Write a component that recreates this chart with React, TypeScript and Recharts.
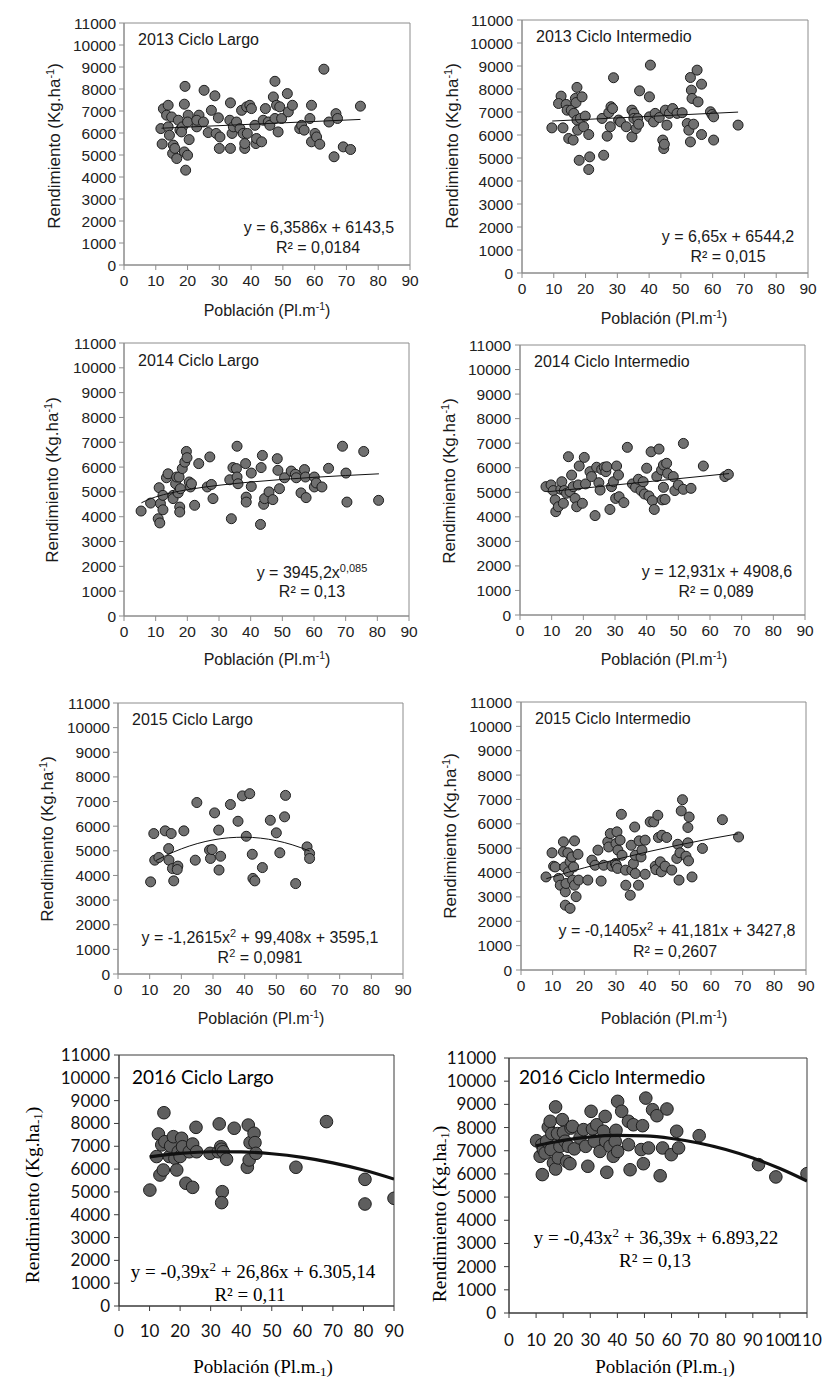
import React from 'react';
import { ScatterChart, Scatter, XAxis, YAxis, ReferenceArea } from 'recharts';

type Pt = { x: number; y: number };
const toPts = (a: number[][]): Pt[] => a.map(([x, y]) => ({ x, y }));

// ---- tick values ----
const yTicks = [0, 1000, 2000, 3000, 4000, 5000, 6000, 7000, 8000, 9000, 10000, 11000];
const xTicks90 = [0, 10, 20, 30, 40, 50, 60, 70, 80, 90];
const xTicks110 = [0, 10, 20, 30, 40, 50, 60, 70, 80, 90, 100, 110];

// ---- observed points (Población, Rendimiento) ----
const p2013Largo = toPts([[11.6,6200],[12.4,7100],[12,5500],[13.9,7260],[13.4,6810],[13.9,6280],[14.3,5900],[15,6730],[15.5,5450],[15.3,5070],[16,5300],[16.6,4840],[17.1,6580],[17.6,6130],[18.4,6280],[19.2,8120],[19,7310],[19,5140],[19.4,4310],[20,4990],[20.2,6810],[20,6500],[20.5,5700],[18.1,6050],[22.9,6280],[23.6,6810],[22.9,6580],[25,6500],[25.2,7940],[26.5,6020],[27.5,7030],[28.6,7690],[29,5980],[29.7,6690],[30,5300],[30.2,5820],[33.5,7370],[33.5,5300],[33.3,6580],[34,5980],[34.4,6280],[35.4,6500],[36.5,6200],[37,7030],[37.5,5980],[38,5300],[38,5520],[38.6,7190],[38.8,5980],[39.6,7260],[40.1,7110],[41.2,6350],[41.5,5520],[41.7,5750],[43.3,5600],[43.8,6580],[44.5,7110],[45.4,6500],[45.9,6350],[47,7640],[47.5,8350],[47.5,6660],[48,7260],[48.5,6050],[49,7190],[49.6,6660],[51.4,7790],[51.7,6960],[53,7260],[55.3,6200],[55.9,6350],[56.7,6130],[58.5,6660],[59,7260],[59,5600],[60.1,5980],[60.6,5820],[61.6,5490],[62.9,8900],[64.5,6500],[66.1,4920],[66.7,6880],[67.2,6660],[69,5370],[71.3,5250],[74.4,7220]]);

const p2013Inter = toPts([[9.4,6310],[12.3,7690],[11.5,7370],[12.9,6310],[13.9,7330],[14.2,7080],[14.7,5850],[15.5,7080],[16.1,5780],[16.3,6940],[16.8,7590],[17,7410],[17.3,8070],[17.3,6650],[17.5,6210],[18,4900],[18.4,6720],[18.9,7660],[19.4,6360],[19.9,6820],[21,6020],[21.3,5050],[21,4500],[25.2,6720],[25.7,5120],[26.8,5950],[27.3,6970],[27.8,6360],[28,7230],[28.5,7150],[28.8,8490],[30.4,6650],[31,6570],[32.8,6360],[34.6,7080],[34.6,5920],[35.2,6940],[35.2,6720],[35.9,6280],[36.4,6720],[36.7,6470],[37,7920],[40.1,7660],[40.4,9040],[40.1,6790],[41.4,6570],[41.9,6940],[43.2,6760],[44.3,5780],[44.6,5410],[44.8,5600],[45.1,7080],[45.6,6430],[46.4,6940],[47.4,7150],[48.8,6940],[50.4,6970],[52,6500],[52.5,6210],[53,5700],[53,8500],[53.3,7950],[53.5,7590],[54,6470],[55.1,8820],[55.4,7440],[56.5,8210],[56.5,6020],[59.3,7010],[59.8,6890],[60.3,6790],[60.3,5780],[68,6430]]);

const p2014Largo = toPts([[5.4,4230],[8.4,4550],[10.8,3920],[11.3,3750],[11.1,5170],[11.5,4530],[12.3,4860],[12.3,4280],[13.4,5570],[13.9,5730],[15.5,4860],[15.5,4730],[16.3,5330],[16.6,5600],[17.1,4960],[17.4,5600],[17.6,4390],[17.6,4190],[17.8,5130],[18.4,5940],[19.2,6200],[19.7,6630],[19.9,6380],[20.6,5400],[21,5200],[21.3,5330],[22.3,4460],[23.6,6140],[26.3,5200],[27.1,6410],[27.6,5300],[28.1,4730],[33.4,5490],[33.9,3920],[34.4,5980],[35.5,5940],[35.7,6840],[35.7,5600],[36,5330],[38.4,6140],[38.6,4790],[38.6,4590],[40.2,5760],[40.2,5220],[43.1,3690],[43.3,5980],[43.7,6470],[44.1,4500],[44.4,4730],[45.8,5000],[47,4690],[48.4,6340],[48.6,5870],[49.1,5130],[50.7,5570],[52.8,5840],[54.1,5710],[54.4,5570],[55.9,4960],[57,5900],[57.3,5600],[57.5,4770],[60.1,5600],[60.1,5200],[60.7,5360],[62.5,5200],[64.6,5950],[69,6840],[70.1,5760],[70.4,4590],[75.7,6630],[80.4,4660]]);

const p2014Inter = toPts([[8.2,5230],[9.8,5300],[10.5,5070],[11.1,4690],[11.3,4210],[12.1,4410],[12.9,5120],[13.2,5430],[13.7,4550],[14,5070],[14.7,4960],[15.3,6450],[15.8,5020],[16.3,5700],[16.8,5230],[17.4,4750],[17.9,4410],[18.4,5300],[18.7,6070],[19.7,4550],[20.3,6420],[20.7,5340],[22.1,5840],[22.6,5640],[23.7,4050],[24.2,6020],[24.9,5390],[25.3,5090],[25.8,5930],[26.6,6020],[27.1,5840],[27.4,6040],[28.4,4300],[28.9,5230],[29.5,5430],[30.2,4750],[30.5,6070],[31.1,5700],[31.3,4820],[32.8,4580],[33.9,6830],[35.5,5340],[36.5,5200],[37.4,5530],[38.2,5070],[38.9,5430],[39.3,4930],[40,5980],[40.7,4850],[41.4,6650],[41.8,4660],[42.4,4300],[43.2,5640],[43.9,6760],[44.7,5910],[44.9,4690],[45.3,6110],[45.3,5200],[45.8,4710],[46.3,6180],[46.6,5770],[48.4,5640],[48.9,5070],[50,5300],[51.6,5120],[51.6,6990],[54,5160],[57.9,6070],[64.7,5640],[65.8,5730]]);

const p2015Largo = toPts([[10.3,3740],[11.3,5700],[11.6,4620],[12.9,4730],[14.9,5810],[16,5090],[16.1,4620],[16.8,5700],[17.2,4280],[17.6,3780],[18.9,4380],[18.7,4240],[20.8,5810],[24.4,4620],[24.9,6960],[28.9,5030],[29.2,4690],[29.7,5050],[30.5,6540],[31.8,5840],[31.9,4220],[32.4,4780],[35.5,6880],[37.9,6200],[39.3,7230],[40.5,5590],[41.6,7320],[42.4,4860],[42.6,3880],[43.2,3780],[45.6,4320],[48.1,6240],[50,5730],[51.1,4920],[52.6,6380],[52.9,7250],[56.1,3670],[59.7,5160],[60.5,4890],[60.5,4690]]);

const p2015Inter = toPts([[7.9,3820],[9.8,4810],[10.3,4260],[10.8,4230],[11.9,3760],[12.4,3480],[13.4,5260],[13.4,4850],[13.8,4230],[14,3210],[14,2660],[14.2,3550],[14.8,4810],[15,4030],[15.5,2530],[15.5,4440],[16.1,4640],[16.3,3690],[16.6,4230],[16.9,5300],[16.9,3480],[17.4,3010],[18,4750],[18.2,3690],[21.1,3690],[22.4,4510],[23.4,4300],[24.3,4920],[25.3,3650],[26.1,4300],[27.4,5260],[27.7,5050],[28.2,5600],[28.7,4260],[29.8,4370],[30,5190],[30.1,4300],[30.3,5670],[30.5,4170],[30.6,4920],[31.3,5330],[31.7,6390],[31.9,4710],[33,4100],[33.1,3480],[34.5,3070],[34.8,5120],[35,4100],[35.5,4370],[35.9,5870],[36.1,4710],[36.1,3960],[37.1,3480],[37.3,5300],[37.9,4640],[38.2,4920],[39.2,5330],[39.2,3930],[40.8,6080],[41.9,6080],[42.4,4260],[42.6,4120],[43.2,6350],[43.4,5440],[44,4440],[44.3,4030],[44.5,5530],[45.5,4260],[46,5440],[47.6,4100],[49.2,4580],[49.5,5160],[49.9,3690],[50.2,4810],[50.6,6530],[51,6990],[52.1,4670],[52.7,5220],[52.7,5850],[52.9,4480],[53.1,6280],[54,3820],[57.3,4990],[63.6,6170],[68.7,5460]]);

const p2016Largo = toPts([[10.1,5080],[12.3,6550],[12.9,7540],[13.4,5740],[14,7060],[14.5,5960],[14.7,8470],[15,7200],[16.5,6550],[16.9,7010],[17.8,7420],[18.3,6470],[18.9,5960],[19.4,6760],[20,6550],[20.5,7350],[20.8,6980],[21.9,5380],[23,6760],[24.1,5200],[24.1,7100],[25.2,7830],[25.4,6760],[29.8,6690],[32.5,6760],[32.8,7980],[33.3,6980],[33.6,6870],[33.8,5010],[33.6,4530],[34.1,6760],[35.2,6430],[37.7,7790],[42,6080],[42.3,7930],[42.6,6400],[42.9,7160],[44.2,7570],[44.5,7160],[44.8,6690],[57.9,6080],[67.9,8080],[80.5,5550],[80.5,4470],[90,4720]]);

const p2016Inter = toPts([[10.2,7430],[11.5,6760],[12.3,5970],[12.1,7260],[12.7,7050],[13.3,6900],[13.9,7410],[14.5,8020],[15.2,8270],[15.5,7050],[15.8,7740],[16.4,6470],[17.2,8890],[17.2,6210],[17.9,7740],[18.2,6690],[18.8,7190],[19.7,8340],[20.1,7790],[20.7,7410],[21.3,6540],[21.9,7190],[22.5,6440],[22.9,7980],[23.4,8050],[24.1,7080],[26.2,7550],[27.5,7910],[28.3,7190],[29.1,6330],[30.3,8700],[30.8,7940],[31.5,7410],[32.4,8120],[33.6,6970],[34.9,7840],[35.5,8480],[35.7,7410],[36.1,6070],[37.3,7190],[38.5,6760],[39.2,7410],[39.5,7880],[40.1,9130],[40.1,6970],[41.6,8700],[44.1,7260],[44.1,8270],[44.7,6180],[45.9,8120],[48.8,7050],[49.3,8080],[49.6,6440],[50.5,9270],[51.5,7120],[53,8770],[54.6,8510],[55.8,5920],[56.7,7120],[58.3,8800],[59.9,6830],[61.9,7840],[62.6,7120],[70.2,7650],[92.1,6400],[98.5,5870],[110,6010]]);

// ---- trendline points ----
const t2013Largo = toPts([[11.8,6218],[74.4,6617]]);
const t2013Inter = toPts([[9.5,6607],[68,6996]]);
const t2014Largo = toPts([[5.5,4560],[8,4708],[10,4798],[15,4966],[20,5089],[30,5268],[40,5398],[50,5502],[60,5588],[70,5661],[80.5,5729]]);
const t2014Inter = toPts([[8.5,5018],[66,5762]]);
const t2015Largo = toPts([[12,4606],[15,4802],[20,5079],[25,5292],[30,5442],[35,5529],[40,5553],[45,5514],[50,5412],[55,5246],[60.5,4992]]);
const t2015Inter = toPts([[8,3748],[15,4014],[20,4195],[30,4537],[40,4850],[50,5136],[60,5393],[68.5,5589]]);
const t2016Largo = toPts([[10,6535],[20,6686],[30,6760],[40,6755],[50,6673],[60,6513],[70,6274],[80,5958],[90,5563]]);
const t2016Inter = toPts([[10,7214],[20,7449],[30,7598],[40,7661],[50,7638],[60,7529],[70,7334],[80,7052],[90,6685],[100,6232],[110,5693]]);

// ---- layout / style ----
type Panel = {
  data: Pt[]; trend: Pt[]; col: number; L: number; R: number; T: number; B: number;
  xMax: number; xTicks: number[]; kind: 'a' | 'b'; xTickMargin: number; yTickMargin: number;
};

const panels: Panel[] = [
  { data: p2013Largo, trend: t2013Largo, col: 0, L: 124, R: 410, T: 23, B: 265, xMax: 90, xTicks: xTicks90, kind: 'a', xTickMargin: 5, yTickMargin: 3 },
  { data: p2013Inter, trend: t2013Inter, col: 412, L: 522, R: 808, T: 20, B: 273, xMax: 90, xTicks: xTicks90, kind: 'a', xTickMargin: 5, yTickMargin: 4 },
  { data: p2014Largo, trend: t2014Largo, col: 0, L: 124, R: 409, T: 343, B: 616, xMax: 90, xTicks: xTicks90, kind: 'a', xTickMargin: 5, yTickMargin: 3 },
  { data: p2014Inter, trend: t2014Inter, col: 412, L: 520, R: 805, T: 345, B: 615, xMax: 90, xTicks: xTicks90, kind: 'a', xTickMargin: 5, yTickMargin: 4 },
  { data: p2015Largo, trend: t2015Largo, col: 0, L: 118, R: 403, T: 703, B: 974, xMax: 90, xTicks: xTicks90, kind: 'a', xTickMargin: 5, yTickMargin: 3 },
  { data: p2015Inter, trend: t2015Inter, col: 412, L: 521, R: 806, T: 702, B: 970, xMax: 90, xTicks: xTicks90, kind: 'a', xTickMargin: 5, yTickMargin: 4 },
  { data: p2016Largo, trend: t2016Largo, col: 0, L: 119, R: 394, T: 1055, B: 1306, xMax: 90, xTicks: xTicks90, kind: 'b', xTickMargin: 14, yTickMargin: 4 },
  { data: p2016Inter, trend: t2016Inter, col: 412, L: 509, R: 807, T: 1058, B: 1313, xMax: 110, xTicks: xTicks110, kind: 'b', xTickMargin: 16, yTickMargin: 8 },
];

const SANS = '"Liberation Sans", Arial, sans-serif';
const SERIF = '"Liberation Serif", "Times New Roman", serif';
const CAL = 'Lato, "Open Sans", sans-serif';

function ChartPanel({ p }: { p: Panel }) {
  const isB = p.kind === 'b';
  const top = p.T - 10;
  const rightPad = 16;
  const width = p.R - p.col + rightPad;
  const xAxisH = 44;
  const height = p.B - top + xAxisH;
  const axisColor = isB ? '#3a3a3a' : '#8c8c8c';
  const tickFont = isB ? { fill: '#111', fontSize: 17, fontFamily: CAL } : { fill: '#222', fontSize: 15.5, fontFamily: SANS };
  const r = isB ? 6.3 : 5;
  const fill = isB ? '#5e5e5e' : '#707070';
  const dot = (props: any) => (
    <circle cx={props.cx} cy={props.cy} r={r} fill={fill} stroke="#1e1e1e" strokeWidth={1} />
  );
  return (
    <div style={{ position: 'absolute', left: p.col, top, width, height }}>
      <ScatterChart width={width} height={height} margin={{ top: 10, right: rightPad, bottom: 0, left: 0 }}>
        <XAxis type="number" dataKey="x" domain={[0, p.xMax]} ticks={p.xTicks} interval={0}
          allowDataOverflow height={xAxisH} tickSize={5} tickMargin={p.xTickMargin}
          axisLine={{ stroke: axisColor }} tickLine={{ stroke: axisColor }} tick={tickFont} />
        <YAxis type="number" dataKey="y" domain={[0, 11000]} ticks={yTicks} interval={0}
          allowDataOverflow width={p.L - p.col} tickSize={5} tickMargin={p.yTickMargin}
          axisLine={{ stroke: axisColor }} tickLine={{ stroke: axisColor }} tick={tickFont} />
        <ReferenceArea x1={0} x2={p.xMax} y1={0} y2={11000} fill="none" fillOpacity={0}
          stroke={axisColor} strokeWidth={1} ifOverflow="visible" />
        <Scatter data={p.data} shape={dot} isAnimationActive={false} />
        <Scatter data={p.trend} shape={() => <g />} line={{ stroke: '#111', strokeWidth: isB ? 3.2 : 1 }}
          lineJointType="monotoneX" isAnimationActive={false} />
      </ScatterChart>
    </div>
  );
}

// ---- text overlays ----
const A = { fontFamily: SANS, fill: '#1a1a1a' };
const Bf = { fontFamily: SERIF, fill: '#000' };

function YLabA({ x, y }: { x: number; y: number }) {
  return (
    <text x={x} y={y} transform={`rotate(-90 ${x} ${y})`} textAnchor="middle" dy="0.36em" fontSize={17} {...A}>
      Rendimiento (Kg.ha<tspan dy="-6" fontSize={11}>-1</tspan><tspan dy="6">)</tspan>
    </text>
  );
}
function XLabA({ x, y }: { x: number; y: number }) {
  return (
    <text x={x} y={y} textAnchor="middle" fontSize={16} {...A}>
      Población (Pl.m<tspan dy="-6" fontSize={10.5}>-1</tspan><tspan dy="6">)</tspan>
    </text>
  );
}
function YLabB({ x, y }: { x: number; y: number }) {
  return (
    <text x={x} y={y} transform={`rotate(-90 ${x} ${y})`} textAnchor="middle" dy="0.34em" fontSize={19.5} {...Bf}>
      Rendimiento  (Kg.ha<tspan dy="3" fontSize={13}>-1</tspan><tspan dy="-3">)</tspan>
    </text>
  );
}
function XLabB({ x, y }: { x: number; y: number }) {
  return (
    <text x={x} y={y} textAnchor="middle" fontSize={19} {...Bf}>
      Población (Pl.m<tspan dy="3" fontSize={13}>-1</tspan><tspan dy="-3">)</tspan>
    </text>
  );
}
function Title({ x, y, t, b }: { x: number; y: number; t: string; b?: boolean }) {
  return b ? (
    <text x={x} y={y} fontSize={19} fontFamily={CAL} fill="#000">{t}</text>
  ) : (
    <text x={x} y={y} fontSize={16} {...A}>{t}</text>
  );
}
function EqA({ x, y, children }: { x: number; y: number; children: React.ReactNode }) {
  return <text x={x} y={y} textAnchor="middle" fontSize={16} {...A}>{children}</text>;
}
function EqB({ x, y, children }: { x: number; y: number; children: React.ReactNode }) {
  return <text x={x} y={y} textAnchor="middle" fontSize={19} {...Bf}>{children}</text>;
}

function Overlay() {
  return (
    <svg width={823} height={1380} style={{ position: 'absolute', left: 0, top: 0, pointerEvents: 'none' }}>
      {/* 2013 Largo */}
      <Title x={138} y={45} t="2013 Ciclo Largo" />
      <EqA x={319} y={233}>y = 6,3586x + 6143,5</EqA>
      <EqA x={318} y={253}>R² = 0,0184</EqA>
      <XLabA x={267} y={316} />
      <YLabA x={54} y={146} />
      {/* 2013 Intermedio */}
      <Title x={536} y={42} t="2013 Ciclo Intermedio" />
      <EqA x={728} y={242}>y = 6,65x + 6544,2</EqA>
      <EqA x={728} y={262}>R² = 0,015</EqA>
      <XLabA x={664} y={324} />
      <YLabA x={452} y={146} />
      {/* 2014 Largo */}
      <Title x={138} y={366} t="2014 Ciclo Largo" />
      <EqA x={312} y={578}>y = 3945,2x<tspan dy="-6" fontSize={11}>0,085</tspan></EqA>
      <EqA x={312} y={597}>R² = 0,13</EqA>
      <XLabA x={267} y={665} />
      <YLabA x={52} y={480} />
      {/* 2014 Intermedio */}
      <Title x={534} y={367} t="2014 Ciclo Intermedio" />
      <EqA x={717} y={577}>y = 12,931x + 4908,6</EqA>
      <EqA x={716} y={597}>R² = 0,089</EqA>
      <XLabA x={664} y={665} />
      <YLabA x={449} y={481} />
      {/* 2015 Largo */}
      <Title x={132} y={725} t="2015 Ciclo Largo" />
      <EqA x={260} y={943}>y = -1,2615x<tspan dy="-6" fontSize={11}>2</tspan><tspan dy="6"> + 99,408x + 3595,1</tspan></EqA>
      <EqA x={260} y={963}>R<tspan dy="-6" fontSize={11}>2</tspan><tspan dy="6"> = 0,0981</tspan></EqA>
      <XLabA x={261} y={1024} />
      <YLabA x={47} y={839} />
      {/* 2015 Intermedio */}
      <Title x={535} y={724} t="2015 Ciclo Intermedio" />
      <EqA x={677} y={936}>y = -0,1405x<tspan dy="-6" fontSize={11}>2</tspan><tspan dy="6"> + 41,181x + 3427,8</tspan></EqA>
      <EqA x={675} y={957}>R² = 0,2607</EqA>
      <XLabA x={664} y={1024} />
      <YLabA x={450} y={836} />
      {/* 2016 Largo */}
      <Title x={132} y={1084} t="2016 Ciclo Largo" b />
      <EqB x={253} y={1278}>y = -0,39x<tspan dy="-7" fontSize={13}>2</tspan><tspan dy="7"> + 26,86x + 6.305,14</tspan></EqB>
      <EqB x={250} y={1301}>R² = 0,11</EqB>
      <XLabB x={263} y={1373} />
      <YLabB x={32} y={1195} />
      {/* 2016 Intermedio */}
      <Title x={519} y={1084} t="2016 Ciclo Intermedio" b />
      <EqB x={656} y={1244}>y = -0,43x<tspan dy="-7" fontSize={13}>2</tspan><tspan dy="7"> + 36,39x + 6.893,22</tspan></EqB>
      <EqB x={655} y={1267}>R² = 0,13</EqB>
      <XLabB x={665} y={1373} />
      <YLabB x={439} y={1214} />
    </svg>
  );
}

export default function App() {
  return (
    <div style={{ position: 'absolute', left: 0, top: 0, width: 823, height: 1380, background: '#fff', overflow: 'hidden' }}>
      {panels.map((p, i) => (
        <ChartPanel key={i} p={p} />
      ))}
      <Overlay />
    </div>
  );
}
